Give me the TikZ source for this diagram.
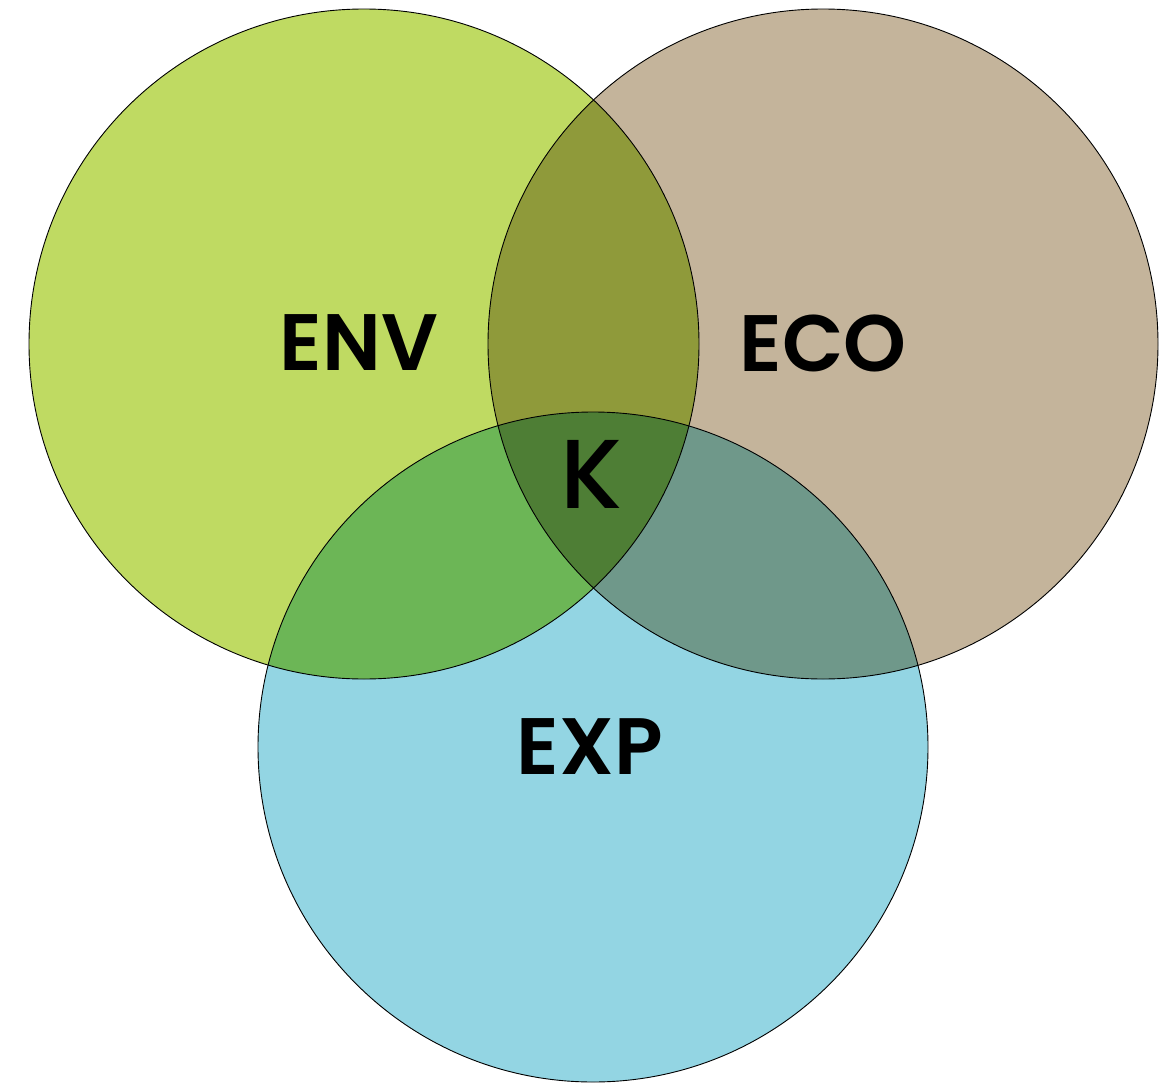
\documentclass[tikz,border=0pt]{standalone}
\usepackage{fontspec}
\setmainfont{Poppins}[BoldFont={Poppins SemiBold}]
\newfontfamily\medfont{Poppins Medium}
\usepackage{tikz}

\definecolor{envgreen}{HTML}{BFDA62}
\definecolor{ecotan}{HTML}{C4B49B}
\definecolor{expblue}{HTML}{93D5E3}
\definecolor{enveco}{HTML}{8F9A3A}
\definecolor{envexp}{HTML}{6CB656}
\definecolor{ecoexp}{HTML}{6F988A}
\definecolor{allthree}{HTML}{4E7E35}

\tikzset{
  setlabel/.style={font=\fontsize{80}{80}\selectfont\bfseries, text=black},
  rim/.style={line width=0.9pt, draw=black}
}

\begin{document}
\begin{tikzpicture}[x=1pt, y=-1pt]
        \useasboundingbox (0,0) rectangle (1170,1084);

        % centres
        \coordinate (env) at (364,344);
        \coordinate (eco) at (823,344);
        \coordinate (exp) at (593,747);

        % circles
        \fill[envgreen] (env) circle (335);
        \fill[ecotan] (eco) circle (335);
        \fill[expblue] (exp) circle (335);

        % pairwise overlaps
        \begin{scope}
            \clip (env) circle (335);
            \fill[enveco] (eco) circle (335);
            \fill[envexp] (exp) circle (335);
        \end{scope}
        \begin{scope}
            \clip (eco) circle (335);
            \fill[ecoexp] (exp) circle (335);
        \end{scope}

        % centre
        \begin{scope}
            \clip (env) circle (335);
            \clip (eco) circle (335);
            \fill[allthree] (exp) circle (335);
        \end{scope}

        % outlines
        \draw[rim] (env) circle (335);
        \draw[rim] (eco) circle (335);
        \draw[rim] (exp) circle (335);

        % labels
        \node[setlabel] (envlabel) at (359,343) {ENV};
        \node[setlabel] (ecolabel) at (823,343) {ECO};
        \node[setlabel] (explabel) at (590,747) {EXP};
        \node[font=\medfont\fontsize{98}{98}\selectfont, text=black] (klabel) at (592,474) {K};
    \end{tikzpicture}
\end{document}
